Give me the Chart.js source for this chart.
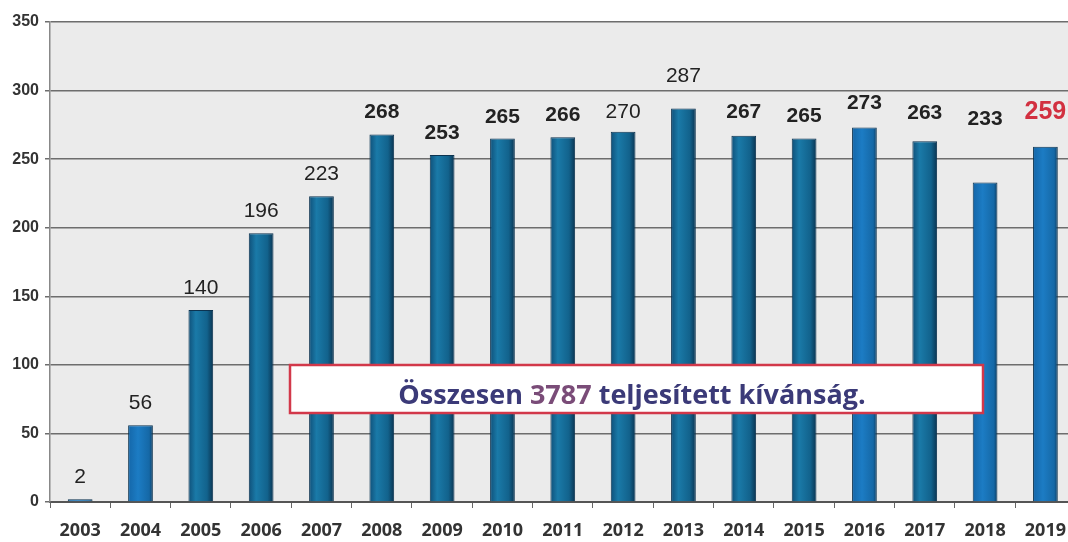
<!DOCTYPE html>
<html><head><meta charset="utf-8">
<script src="https://cdn.jsdelivr.net/npm/chart.js@4.4.0/dist/chart.umd.min.js"></script>
<style>html,body{margin:0;padding:0;background:#fff;overflow:hidden;width:1068px;height:542px}#wrap{width:1078px;height:542px;position:relative}</style>
</head><body><div id="wrap"><canvas id="c" width="1078" height="542"></canvas></div>
<script>
const years = ['2003','2004','2005','2006','2007','2008','2009','2010','2011','2012','2013','2014','2015','2016','2017','2018','2019'];
const counts = [2,56,140,196,223,268,253,265,266,270,287,267,265,273,263,233,259];
const yTicks = [0,50,100,150,200,250,300,350];
const boxText = ['Összesen ', '3787', ' teljesített kívánság.'];
const boldLabels = [false,false,false,false,false,true,true,true,true,false,false,true,true,true,true,true,true];
const labelLift = [20,20,20,20,20,20,20,19,20,18,30,22,20,22,26,61,33];

const bgPlugin = {
  id:'bg',
  beforeDraw(chart){
    const {ctx, chartArea:a} = chart;
    ctx.save(); ctx.fillStyle = '#ebebeb'; ctx.fillRect(a.left, a.top, a.right-a.left, a.bottom-a.top); ctx.restore();
  }
};
const labelPlugin = {
  id:'labels',
  afterDatasetsDraw(chart){
    const {ctx} = chart;
    const meta = chart.getDatasetMeta(0);
    ctx.save();
    ctx.textAlign='center'; ctx.textBaseline='middle';
    meta.data.forEach((bar,i)=>{
      const last = i === counts.length-1;
      ctx.font = (boldLabels[i]||last ? 'bold ' : '') + (last ? '25px' : '21px') + ' "Liberation Sans", Arial, sans-serif';
      ctx.fillStyle = last ? '#d23040' : '#222';
      ctx.fillText(String(counts[i]), bar.x, bar.y - labelLift[i] - 2);
    });
    const left = 290, right = 983, top = 365, bottom = 413;
    ctx.fillStyle = '#fff'; ctx.fillRect(left, top, right-left, bottom-top);
    ctx.strokeStyle = '#d2384a'; ctx.lineWidth = 2.5; ctx.strokeRect(left, top, right-left, bottom-top);
    ctx.font = 'bold 27px "Open Sans", "DejaVu Sans", sans-serif';
    const colors = ['#3b3a78','#7a4c78','#3b3a78'];
    const total = boxText.reduce((s,t)=>s+ctx.measureText(t).width,0);
    let cx = 632 - total/2;
    ctx.textAlign='left'; ctx.textBaseline='middle';
    boxText.forEach((t,i)=>{ctx.fillStyle=colors[i]; ctx.fillText(t, cx, 396); cx += ctx.measureText(t).width;});
    ctx.restore();
  }
};

new Chart(document.getElementById('c'), {
  type:'bar',
  data:{labels:years, datasets:[{data:counts,
    backgroundColor(ctx){
      const ch = ctx.chart; const xs = ch.scales && ch.scales.x;
      if(!xs || !ch.chartArea) return '#1769a8';
      const cxp = xs.getPixelForValue(ctx.dataIndex); const w = 25;
      const g = ch.ctx.createLinearGradient(cxp - w/2, 0, cxp + w/2, 0);
      const early = ctx.dataIndex < 15 && ctx.dataIndex !== 0 && ctx.dataIndex !== 1 && ctx.dataIndex !== 13;
      if(early){
        g.addColorStop(0,'#0f4f78'); g.addColorStop(0.3,'#1a7aa8'); g.addColorStop(0.75,'#12628c'); g.addColorStop(1,'#0a3350');
      } else {
        g.addColorStop(0,'#1466a8'); g.addColorStop(0.4,'#1c7cc4'); g.addColorStop(0.85,'#1568a6'); g.addColorStop(1,'#0b3a5e');
      }
      return g;
    },
    borderColor:'#0c3350', borderWidth:1, barPercentage:0.82, categoryPercentage:0.5}]},
  options:{
    responsive:false, animation:false, devicePixelRatio:1,
    layout:{padding:{top:22,right:0,left:0,bottom:0}},
    plugins:{legend:{display:false}, tooltip:{enabled:false}},
    scales:{
      x:{grid:{display:true, drawOnChartArea:false, tickLength:6, color:'#666', offset:true},
         border:{display:true,color:'#555',width:2},
         ticks:{color:'#333', padding:12, font:{family:'"Open Sans", Arial, sans-serif', size:18, weight:'bold'}},
         afterFit(s){s.height=40;}},
      y:{min:0,max:350,
         afterBuildTicks(s){s.ticks = yTicks.map(v=>({value:v}));},
         grid:{color:'#6d6d6d', lineWidth:1.5, tickLength:5},
         border:{display:true,color:'#888',width:1.5},
         ticks:{color:'#333', padding:6, font:{family:'"Liberation Sans", Arial, sans-serif', size:16, weight:'bold'}},
         afterFit(s){s.width=50;}}
    }
  },
  plugins:[bgPlugin,labelPlugin]
});
</script></body></html>
